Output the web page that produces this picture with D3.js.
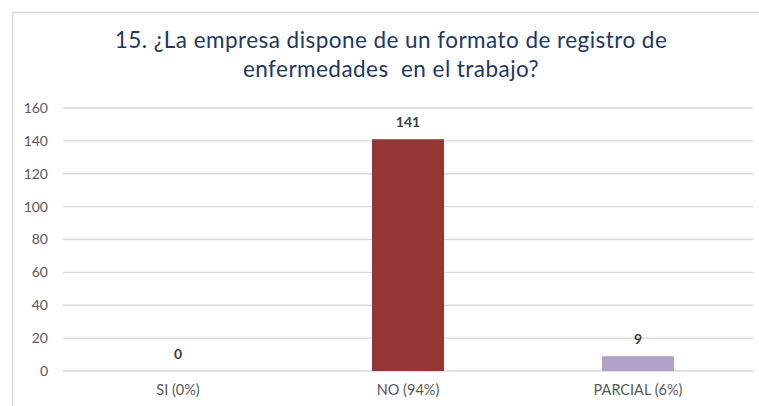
<!DOCTYPE html>
<html>
<head>
<meta charset="utf-8">
<script src="https://cdn.jsdelivr.net/npm/d3@7"></script>
<style>
  body { margin: 0; background: #fff; }
  svg { display: block; font-family: Lato, "Open Sans", sans-serif; }
</style>
</head>
<body>
<svg id="canvas" width="759" height="406"></svg>
<script>
// chart data
const categories = ['SI (0%)', 'NO (94%)', 'PARCIAL (6%)']
const values = [0, 141, 9]
const barColors = ['#4f81bd', '#943634', '#b2a2c7']
const yTicks = [0, 20, 40, 60, 80, 100, 120, 140, 160]
const titleLines = ['15. ¿La empresa dispone de un formato de registro de', 'enfermedades  en el trabajo?']

const width = 759
const height = 406
const margin = { top: 108, right: 6, bottom: 35, left: 63 }

let canvas = d3.select('#canvas')

// chart frame
canvas.append('rect')
  .attr('x', 12.5).attr('y', 12.5)
  .attr('width', width + 10).attr('height', height + 10)
  .attr('fill', '#fff')
  .attr('stroke', '#d9d9d9')
  .attr('stroke-width', 1.5)

// title
canvas.append('g')
  .selectAll('text')
  .data(titleLines)
  .enter()
  .append('text')
  .attr('x', 391)
  .attr('y', (d, i) => 48 + i * 29)
  .attr('text-anchor', 'middle')
  .attr('fill', '#203864')
  .style('font-size', '22.5px')
  .style('letter-spacing', '0.45px')
  .style('white-space', 'pre')
  .text(d => d)

let xScale = d3.scaleBand()
  .domain(categories)
  .range([margin.left, width - margin.right])
  .paddingInner(0.687)
  .paddingOuter(0.3435)

let yScale = d3.scaleLinear()
  .domain([0, 160])
  .range([height - margin.bottom, margin.top])

// gridlines
canvas.append('g')
  .selectAll('line')
  .data(yTicks)
  .enter()
  .append('line')
  .attr('x1', margin.left)
  .attr('x2', width - margin.right)
  .attr('y1', d => yScale(d))
  .attr('y2', d => yScale(d))
  .attr('stroke', '#d9d9d9')
  .attr('stroke-width', 1.3)

// y axis labels
let yAxis = d3.axisLeft(yScale).tickValues(yTicks).tickSize(0).tickPadding(15)
canvas.append('g')
  .attr('transform', `translate(${margin.left}, 0)`)
  .call(yAxis)
  .call(g => g.select('.domain').remove())
  .call(g => g.selectAll('text')
    .attr('fill', '#595959')
    .style('font-size', '14px')
    .style('font-family', 'Lato, sans-serif'))

// bars
canvas.append('g')
  .selectAll('rect')
  .data(values)
  .enter()
  .append('rect')
  .attr('x', (d, i) => xScale(categories[i]))
  .attr('width', xScale.bandwidth())
  .attr('y', d => yScale(d))
  .attr('height', d => yScale(0) - yScale(d))
  .attr('fill', (d, i) => barColors[i])

// value labels
canvas.append('g')
  .selectAll('text')
  .data(values)
  .enter()
  .append('text')
  .attr('x', (d, i) => xScale(categories[i]) + xScale.bandwidth() / 2)
  .attr('y', d => yScale(d) - 12)
  .attr('text-anchor', 'middle')
  .attr('fill', '#404040')
  .style('font-size', '14px')
  .style('font-weight', 'bold')
  .text(d => d)

// x axis labels
let xAxis = d3.axisBottom(xScale).tickSize(0).tickPadding(13.5)
canvas.append('g')
  .attr('transform', `translate(0, ${yScale(0)})`)
  .call(xAxis)
  .call(g => g.select('.domain').remove())
  .call(g => g.selectAll('text')
    .attr('fill', '#595959')
    .style('font-size', '14.5px')
    .style('font-family', 'Lato, sans-serif'))
</script>
</body>
</html>
